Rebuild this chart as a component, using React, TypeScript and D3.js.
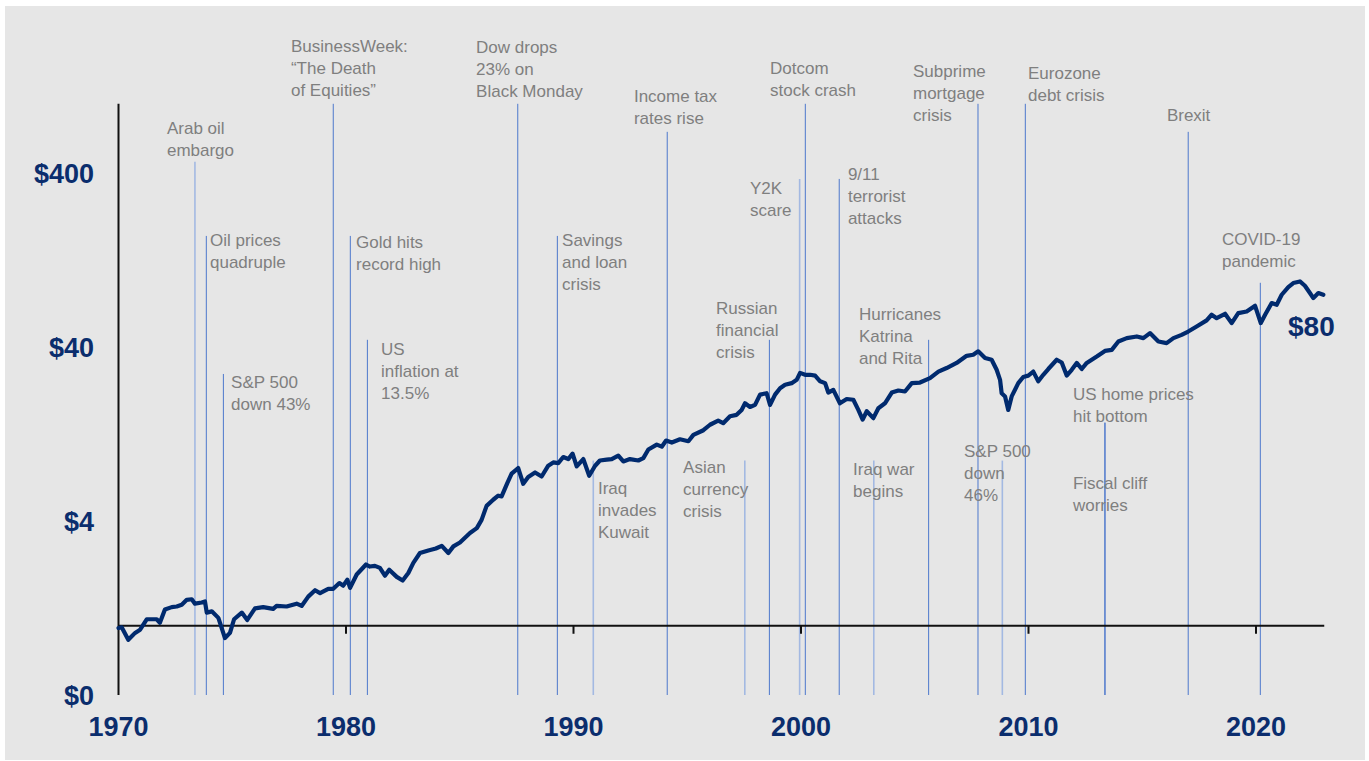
import React, { useEffect, useRef } from 'react'
import * as d3 from 'd3'

// growth of $1 (decimal year, $ value)
const dates = [
  1970.0, 1970.14, 1970.43, 1970.73, 1970.95, 1971.24, 1971.68, 1971.82, 1972.04, 1972.34,
  1972.56, 1972.78, 1973.0, 1973.22, 1973.36, 1973.66, 1973.8, 1973.88, 1974.1, 1974.39,
  1974.68, 1974.9, 1975.08, 1975.42, 1975.66, 1976.0, 1976.36, 1976.8, 1976.95, 1977.39,
  1977.83, 1978.05, 1978.34, 1978.64, 1978.86, 1979.22, 1979.44, 1979.71, 1979.88, 1980.06,
  1980.18, 1980.47, 1980.88, 1981.05, 1981.27, 1981.49, 1981.71, 1981.9, 1982.23, 1982.49,
  1982.74, 1982.96, 1983.25, 1983.62, 1983.95, 1984.21, 1984.5, 1984.72, 1985.01, 1985.45,
  1985.75, 1985.96, 1986.18, 1986.47, 1986.69, 1986.84, 1987.09, 1987.28, 1987.57, 1987.79,
  1988.01, 1988.31, 1988.6, 1988.89, 1989.11, 1989.33, 1989.55, 1989.77, 1989.96, 1990.14,
  1990.43, 1990.69, 1990.95, 1991.16, 1991.46, 1991.68, 1991.97, 1992.19, 1992.48, 1992.85,
  1993.07, 1993.29, 1993.66, 1993.88, 1994.07, 1994.32, 1994.68, 1995.05, 1995.27, 1995.71,
  1996.0, 1996.36, 1996.58, 1996.88, 1997.17, 1997.39, 1997.54, 1997.76, 1997.98, 1998.2,
  1998.49, 1998.64, 1998.86, 1999.08, 1999.3, 1999.59, 1999.81, 1999.96, 2000.18, 2000.4,
  2000.62, 2000.84, 2001.06, 2001.2, 2001.42, 2001.71, 2002.01, 2002.3, 2002.52, 2002.71,
  2002.89, 2003.18, 2003.4, 2003.69, 2003.99, 2004.28, 2004.57, 2004.87, 2005.23, 2005.67,
  2006.04, 2006.4, 2006.84, 2007.28, 2007.57, 2007.79, 2008.09, 2008.38, 2008.6, 2008.75,
  2008.82, 2008.97, 2009.11, 2009.26, 2009.55, 2009.77, 2009.99, 2010.21, 2010.43, 2010.65,
  2010.87, 2011.24, 2011.46, 2011.68, 2011.9, 2012.12, 2012.34, 2012.56, 2013.0, 2013.36,
  2013.66, 2013.95, 2014.32, 2014.76, 2015.05, 2015.34, 2015.71, 2016.07, 2016.37, 2016.73,
  2017.02, 2017.39, 2017.83, 2018.05, 2018.27, 2018.64, 2018.93, 2019.22, 2019.59, 2019.96,
  2020.21, 2020.4, 2020.69, 2020.91, 2021.13, 2021.42, 2021.64, 2021.93, 2022.15, 2022.37,
  2022.52, 2022.74, 2022.96
]
const values = [
  0.97, 0.98, 0.83, 0.91, 0.95, 1.09, 1.09, 1.04, 1.24, 1.28,
  1.29, 1.32, 1.41, 1.42, 1.34, 1.36, 1.38, 1.19, 1.21, 1.11,
  0.85, 0.91, 1.09, 1.19, 1.08, 1.26, 1.28, 1.25, 1.3, 1.29,
  1.34, 1.3, 1.47, 1.6, 1.54, 1.63, 1.63, 1.76, 1.7, 1.84,
  1.65, 1.97, 2.25, 2.19, 2.21, 2.15, 1.94, 2.1, 1.91, 1.82,
  2.01, 2.3, 2.62, 2.71, 2.78, 2.88, 2.62, 2.86, 3.01, 3.41,
  3.64, 4.06, 4.89, 5.3, 5.59, 5.54, 6.61, 7.48, 8.06, 6.55,
  7.16, 7.61, 7.21, 8.32, 8.69, 8.61, 9.33, 9.08, 9.75, 8.24,
  9.08, 7.28, 8.31, 8.91, 9.01, 9.08, 9.5, 8.8, 9.08, 8.91,
  9.2, 10.3, 11.0, 10.7, 11.6, 11.3, 11.8, 11.5, 12.5, 13.3,
  14.3, 15.1, 14.6, 16.0, 16.3, 17.4, 19.0, 18.1, 18.6, 21.3,
  21.7, 18.6, 21.3, 23.2, 24.3, 24.8, 25.9, 28.4, 27.7, 27.7,
  27.4, 25.4, 24.8, 21.9, 22.7, 19.0, 20.1, 19.9, 17.4, 15.3,
  17.1, 15.6, 17.8, 19.0, 21.9, 22.5, 22.2, 24.8, 25.0, 26.5,
  28.9, 30.3, 32.4, 35.6, 36.1, 37.8, 34.6, 33.8, 29.6, 25.9,
  21.7, 20.8, 17.4, 20.8, 24.8, 26.9, 27.4, 28.9, 25.4, 27.7,
  29.9, 33.8, 32.6, 27.4, 29.6, 32.4, 29.9, 32.4, 35.3, 38.0,
  38.5, 43.0, 45.0, 46.0, 45.0, 48.1, 43.0, 42.1, 45.0, 47.0,
  49.1, 52.5, 56.9, 61.3, 58.6, 62.1, 54.9, 62.7, 64.0, 69.0,
  54.9, 61.3, 71.6, 70.0, 79.9, 88.5, 93.3, 95.3, 90.0, 81.7,
  76.4, 81.7, 79.9
]

const yTicks = [400, 40, 4, 0.4]
const yTickLabels = ['$400', '$40', '$4', '$0']
const xTicks = [1970, 1980, 1990, 2000, 2010, 2020]
const endLabel = '$80'

// event markers: year, height of the marker line ($), label lines
const eventYears = [
  1973.36, 1973.86, 1974.61, 1979.44, 1980.19, 1980.94, 1987.55, 1989.29, 1990.87, 1994.12,
  1997.53, 1998.61, 1999.94, 2000.19, 2001.68, 2003.2, 2005.61, 2007.78, 2008.85, 2009.86,
  2013.36, 2013.36, 2017.02, 2020.19
]
const eventLevels = [
  464, 174, 28, 1000, 174, 44, 1000, 174, 8.9, 690,
  8.9, 44, 370, 1000, 370, 8.9, 44, 1000, 8.9, 1000,
  14.7, 14.7, 690, 93.6
]
const eventTexts = [
  ['Arab oil', 'embargo'],
  ['Oil prices', 'quadruple'],
  ['S&P 500', 'down 43%'],
  ['BusinessWeek:', '\u201CThe Death', 'of Equities\u201D'],
  ['Gold hits', 'record high'],
  ['US', 'inflation at', '13.5%'],
  ['Dow drops', '23% on', 'Black Monday'],
  ['Savings', 'and loan', 'crisis'],
  ['Iraq', 'invades', 'Kuwait'],
  ['Income tax', 'rates rise'],
  ['Asian', 'currency', 'crisis'],
  ['Russian', 'financial', 'crisis'],
  ['Y2K', 'scare'],
  ['Dotcom', 'stock crash'],
  ['9/11', 'terrorist', 'attacks'],
  ['Iraq war', 'begins'],
  ['Hurricanes', 'Katrina', 'and Rita'],
  ['Subprime', 'mortgage', 'crisis'],
  ['S&P 500', 'down', '46%'],
  ['Eurozone', 'debt crisis'],
  ['US home prices', 'hit bottom'],
  ['Fiscal cliff', 'worries'],
  ['Brexit'],
  ['COVID-19', 'pandemic']
]

// label placement relative to the top of each marker line
const labelDx = [
  -28, 3.7, 7.7, -42.3, 5.7, 13.7, -41.7, 4.7, 4.7, -33.3,
  -61.7, -53.3, -49.7, -35.3, 8.7, -20.7, -69.7, -65, -38.3, 2.7,
  -32, -32, -21.3, -38.3
]
const labelDy = [
  -28, 10.5, 14, -52, 12, 15, -51, 10.5, 33, -30,
  12, -26, 15.5, -29.5, 1.5, 14.5, -19.5, -27, -4, -24.5,
  -22.5, 66.5, -10.5, -37.5
]
const lightLines = [0, 8, 10, 12, 15, 18]

const navy = '#0b2d6d'

const App = () => {
  const ref = useRef<SVGSVGElement>(null)

  useEffect(() => {
    const svg = d3.select(ref.current)
    svg.selectAll('*').remove()

    const x = d3.scaleLinear().domain([1970, 2023]).range([118.5, 1324.25])
    const y = d3.scaleLog().domain([0.4, 1000]).range([695, 103.8])

    svg.append('rect').attr('x', 5).attr('y', 6).attr('width', 1360).attr('height', 754).attr('fill', '#e6e6e6')

    // event marker lines
    svg
      .append('g')
      .selectAll('line')
      .data(eventYears)
      .enter()
      .append('line')
      .attr('x1', d => x(d))
      .attr('x2', d => x(d))
      .attr('y1', (d, i) => y(eventLevels[i]))
      .attr('y2', y(0.4))
      .attr('stroke', (d, i) => (lightLines.includes(i) ? '#a3b9e2' : '#4d78cc'))
      .attr('stroke-width', (d, i) => (lightLines.includes(i) ? 1.6 : 1))

    // axes
    svg.append('line').attr('x1', x(1970)).attr('x2', x(1970)).attr('y1', y(1000)).attr('y2', y(0.4))
      .attr('stroke', '#111').attr('stroke-width', 2)
    svg.append('line').attr('x1', x(1970)).attr('x2', x(2023)).attr('y1', y(1)).attr('y2', y(1))
      .attr('stroke', '#111').attr('stroke-width', 2)
    svg
      .append('g')
      .selectAll('line')
      .data(xTicks.slice(1))
      .enter()
      .append('line')
      .attr('x1', d => x(d))
      .attr('x2', d => x(d))
      .attr('y1', y(1))
      .attr('y2', y(1) + 8)
      .attr('stroke', '#111')
      .attr('stroke-width', 2)

    svg
      .append('g')
      .selectAll('text')
      .data(xTicks)
      .enter()
      .append('text')
      .attr('x', d => x(d))
      .attr('y', 736)
      .attr('text-anchor', 'middle')
      .style('font', 'bold 27px "Liberation Sans", Arial, sans-serif')
      .style('fill', navy)
      .text(d => d)

    svg
      .append('g')
      .selectAll('text')
      .data(yTicks)
      .enter()
      .append('text')
      .attr('x', 94)
      .attr('y', d => y(d) + 9.5)
      .attr('text-anchor', 'end')
      .style('font', 'bold 27px "Liberation Sans", Arial, sans-serif')
      .style('fill', navy)
      .text((d, i) => yTickLabels[i])

    // the growth line
    const line = d3
      .line<number>()
      .x(d => x(d))
      .y((d, i) => y(values[i]))
    svg
      .append('path')
      .datum(dates)
      .attr('d', line)
      .attr('fill', 'none')
      .attr('stroke', '#002a6e')
      .attr('stroke-width', 4.2)
      .attr('stroke-linejoin', 'round')
      .attr('stroke-linecap', 'round')

    svg
      .append('text')
      .attr('x', 1288)
      .attr('y', 335.5)
      .style('font', 'bold 28px "Liberation Sans", Arial, sans-serif')
      .style('fill', navy)
      .text(endLabel)

    // event labels
    const notes = svg
      .append('g')
      .selectAll('text')
      .data(eventYears)
      .enter()
      .append('text')
      .attr('x', (d, i) => x(d) + labelDx[i])
      .attr('y', (d, i) => y(eventLevels[i]) + labelDy[i])
      .style('font', '17px "Liberation Sans", Arial, sans-serif')
      .style('fill', '#7f7f7f')
    notes
      .selectAll('tspan')
      .data((d, i) => eventTexts[i])
      .enter()
      .append('tspan')
      .attr('x', function () {
        return (this.parentNode as SVGTextElement).getAttribute('x')
      })
      .attr('dy', (d, j) => (j === 0 ? 0 : 22))
      .text(d => d)
  }, [])

  return (
    <svg
      ref={ref}
      width={1369}
      height={761}
      style={{ position: 'absolute', left: 0, top: 0, background: '#fff' }}
    ></svg>
  )
}

export default App
